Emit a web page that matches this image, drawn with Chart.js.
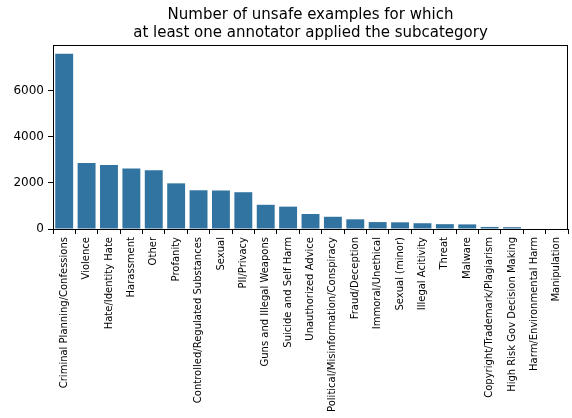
<!DOCTYPE html>
<html><head><meta charset="utf-8">
<script src="https://cdn.jsdelivr.net/npm/chart.js@4/dist/chart.umd.min.js"></script>
<style>html,body{margin:0;padding:0;background:#fff}#wrap{width:572px;height:418px}</style>
</head><body><div id="wrap"><canvas id="c" width="572" height="418"></canvas></div>
<script>
const categories = ["Criminal Planning/Confessions","Violence","Hate/Identity Hate","Harassment","Other","Profanity","Controlled/Regulated Substances","Sexual","PII/Privacy","Guns and Illegal Weapons","Suicide and Self Harm","Unauthorized Advice","Political/Misinformation/Conspiracy","Fraud/Deception","Immoral/Unethical","Sexual (minor)","Illegal Acitivity","Threat","Malware","Copyright/Trademark/Plagiarism","High Risk Gov Decision Making","Harm/Environmental Harm","Manipulation"];
const counts = [7600,2860,2780,2620,2550,1980,1680,1670,1595,1050,970,650,530,420,300,290,250,210,200,90,80,0,0];
const yTicks = [0,2000,4000,6000];
const titleLines = ["Number of unsafe examples for which","at least one annotator applied the subcategory"];

const frame = {id:'frame', afterDatasetsDraw(ch){const a=ch.chartArea,c=ch.ctx;c.save();c.strokeStyle='#000';c.lineWidth=1;c.strokeRect(Math.round(a.left)+0.5,Math.round(a.top)+0.5,Math.round(a.right-a.left)-1,Math.round(a.bottom-a.top));c.restore();}};
const centerTitle = {id:'centerTitle', afterDraw(ch){const a=ch.chartArea,c=ch.ctx;c.save();c.fillStyle='#000';c.font='15px "DejaVu Sans"';c.textAlign='center';c.textBaseline='alphabetic';const cx=(a.left+a.right)/2;titleLines.forEach((t,i)=>c.fillText(t,cx,19+i*17.5));c.restore();}};

new Chart(document.getElementById('c'),{
  type:'bar',
  data:{labels:categories,datasets:[{data:counts,backgroundColor:'#3274a1',borderWidth:0,categoryPercentage:0.8,barPercentage:1}]},
  options:{
    responsive:false,animation:false,devicePixelRatio:1,
    layout:{padding:{left:0,right:4,top:45,bottom:0}},
    plugins:{legend:{display:false},tooltip:{enabled:false},title:{display:false}},
    scales:{
      x:{grid:{drawOnChartArea:false,drawTicks:true,tickLength:5,color:'#000'},border:{display:true,color:'#000'},
        ticks:{autoSkip:false,minRotation:90,maxRotation:90,padding:3,color:'#000',font:{family:'DejaVu Sans',size:10}},
        afterFit(s){s.height=189;}},
      y:{min:0,max:7980,grid:{drawOnChartArea:false,drawTicks:true,tickLength:5,color:'#000'},border:{display:true,color:'#000'},
        afterBuildTicks(s){s.ticks=yTicks.map(v=>({value:v}));},
        ticks:{padding:4,color:'#000',font:{family:'DejaVu Sans',size:12},callback:v=>String(v)},
        afterFit(s){s.width=53;}}
    }
  },
  plugins:[frame,centerTitle]
});
</script></body></html>
